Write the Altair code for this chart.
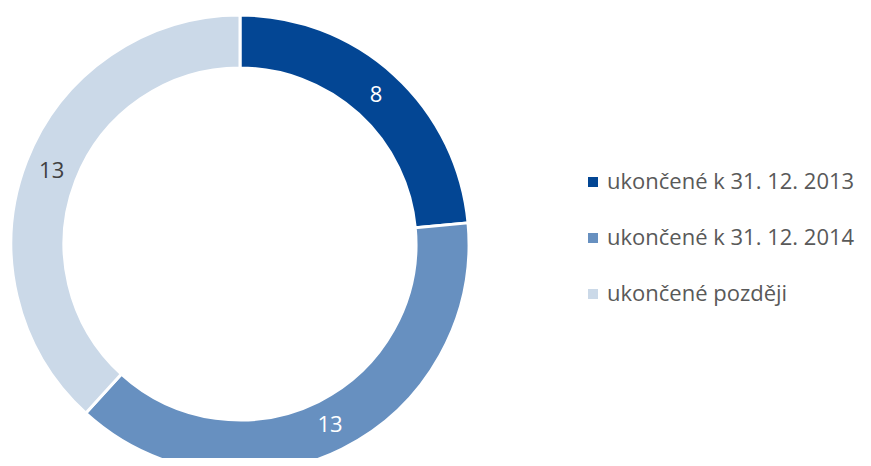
import altair as alt
import pandas as pd

categories = ["ukončené k 31. 12. 2013", "ukončené k 31. 12. 2014", "ukončené později"]
values = [8, 13, 13]
colors = ["#034694", "#6790C0", "#CBD9E8"]
label_colors = ["#FFFFFF", "#FFFFFF", "#404040"]

df = pd.DataFrame({
    "cat": categories,
    "value": values,
    "order": [0, 1, 2],
    "lc": label_colors,
})

CX, CY = 232, 236

base = alt.Chart(df).encode(
    theta=alt.Theta("value:Q", stack=True),
    order=alt.Order("order:Q"),
)

arcs = base.mark_arc(outerRadius=229, innerRadius=176, stroke="white", strokeWidth=3).encode(
    x=alt.value(CX),
    y=alt.value(CY),
    color=alt.Color(
        "cat:N",
        sort=categories,
        scale=alt.Scale(domain=categories, range=colors),
        legend=alt.Legend(
            title=None,
            orient="none",
            legendX=574,
            legendY=163,
            symbolType="square",
            symbolSize=100,
            symbolStrokeWidth=0,
            labelFontSize=22,
            labelFont="Open Sans",
            labelColor="#595959",
            rowPadding=34,
            labelOffset=3,
            labelLimit=400,
        ),
    ),
)

labels = base.mark_text(radius=202, fontSize=22, font="Open Sans").encode(
    x=alt.value(CX),
    y=alt.value(CY),
    text=alt.Text("value:Q"),
    color=alt.Color("lc:N", scale=None),
)

chart = (arcs + labels).properties(
    width=855,
    height=450,
    padding=0,
    autosize=alt.AutoSizeParams(type="none"),
).configure_view(stroke=None)

chart.save("out.html", embed_options={"renderer": "svg", "actions": False})
